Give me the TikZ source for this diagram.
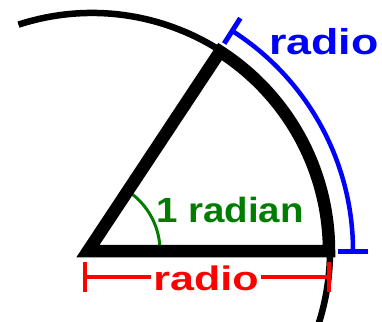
\documentclass[tikz,border=0pt]{standalone}
\usepackage{fontspec}
\setmainfont{Liberation Sans}
\definecolor{radgreen}{RGB}{0,125,0}
\definecolor{radblue}{RGB}{0,0,255}
\definecolor{radred}{RGB}{255,0,0}
\begin{document}
\begin{tikzpicture}[x=1pt,y=1pt,
  lab/.style={font=\fontsize{35}{35}\selectfont\bfseries, inner sep=0pt, anchor=base, xscale=1.1},
  thinarc/.style={line width=6.5pt},
  sector/.style={line width=12.5pt, line join=miter},
  bluearc/.style={radblue, line width=4.5pt},
  bluetick/.style={radblue, line width=5pt},
  redline/.style={radred, line width=4.5pt},
  greenarc/.style={radgreen, line width=3pt}]
\useasboundingbox (0,0) rectangle (382,321);
\coordinate (O) at (92,70);
\coordinate (V) at (88,70);
\coordinate (A0) at (329,70);
% thin circle
\draw[thinarc] (O) ++(108:238) arc[start angle=108, end angle=-19, radius=238];
% blue arc with end ticks
\draw[bluearc] (O) ++(0:261) arc[start angle=0, end angle=57.5, radius=261];
\draw[bluetick] (O) ++(0:246) -- ++(0:30);
\draw[bluetick] (O) ++(57.5:246) -- ++(57.5:30);
% green angle arc
\draw[greenarc] (V) ++(0:72) arc[start angle=0, end angle=56, radius=72];
% thick sector
\draw[sector] (V) -- (A0) arc[start angle=0, end angle=57.3, radius=237] -- cycle;
% labels
\node[lab, text=radblue, font=\fontsize{36}{36}\selectfont\bfseries, xscale=1.13] (bt) at (324,266) {radio};
\node[lab, text=radgreen] (gt) at (230,98) {1 radian};
\node[lab, text=radred, font=\fontsize{34}{34}\selectfont\bfseries, xscale=1.15] (rt) at (206,31) {radio};
% red dimension line
\coordinate (L) at (85,44);
\coordinate (R) at (329,44);
\draw[redline] (L) -- ([xshift=-2pt]L -| rt.west);
\draw[redline] (R) -- ([xshift=2pt]R -| rt.east);
\draw[redline] (L) ++(0,-15) -- ++(0,30);
\draw[redline] (R) ++(0,-15) -- ++(0,30);
\end{tikzpicture}
\end{document}
